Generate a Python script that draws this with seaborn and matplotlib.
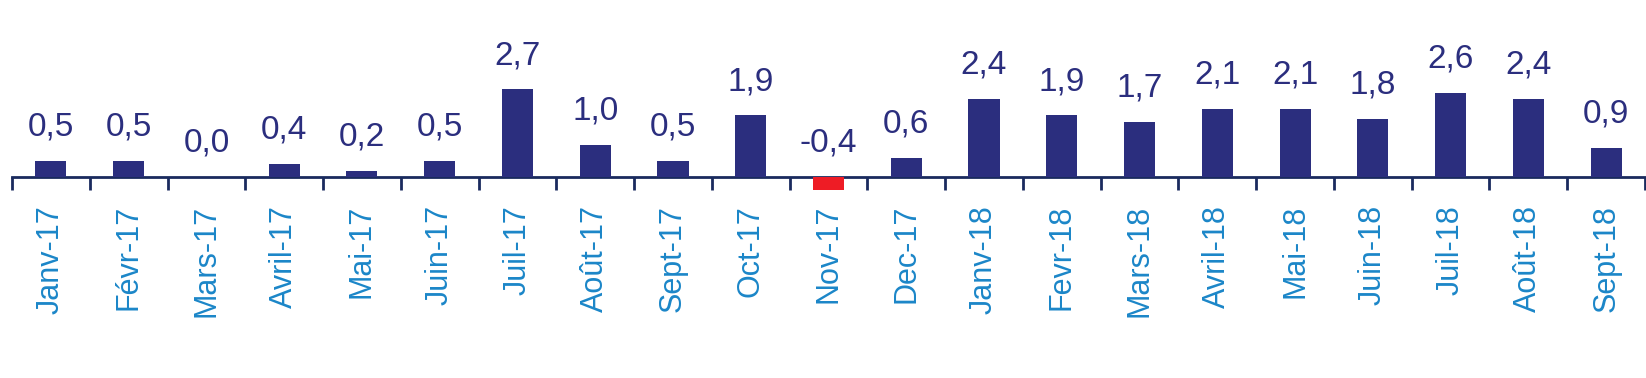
import matplotlib
matplotlib.use('Agg')
import matplotlib.pyplot as plt
import numpy as np
import seaborn as sns

months = ['Janv-17', 'Févr-17', 'Mars-17', 'Avril-17', 'Mai-17', 'Juin-17', 'Juil-17',
          'Août-17', 'Sept-17', 'Oct-17', 'Nov-17', 'Dec-17', 'Janv-18', 'Fevr-18',
          'Mars-18', 'Avril-18', 'Mai-18', 'Juin-18', 'Juil-18', 'Août-18', 'Sept-18']
values = [0.5, 0.5, 0.0, 0.4, 0.2, 0.5, 2.7, 1.0, 0.5, 1.9, -0.4, 0.6,
          2.4, 1.9, 1.7, 2.1, 2.1, 1.8, 2.6, 2.4, 0.9]

navy = '#2B2E7E'
red = '#EE1C25'
label_blue = '#1B86C8'
axis_col = '#1A2A5E'

sns.set_style('white')
plt.rcParams['font.family'] = ['Liberation Sans', 'DejaVu Sans']

fig = plt.figure(figsize=(16.46, 3.78), dpi=100)
ax = fig.add_axes([12 / 1646, 0, 1633 / 1646, 1])

colors = [red if v < 0 else navy for v in values]
sns.barplot(x=months, y=values, hue=months, palette=colors, legend=False,
            width=0.4, saturation=1, linewidth=0, ax=ax)

ax.set_xlim(-0.5, len(months) - 0.5)
ax.set_ylim(-201 / 32.5, 177 / 32.5)

# value labels sit above the bar (or above the axis for negatives)
for i, v in enumerate(values):
    ax.annotate(f'{v:.1f}'.replace('.', ','), (i, max(v, 0)), xytext=(0, 13),
                textcoords='offset points', ha='center', va='bottom',
                fontsize=24, color=navy)

for s in ['top', 'left', 'right']:
    ax.spines[s].set_visible(False)
ax.spines['bottom'].set_position(('data', 0))
ax.spines['bottom'].set_color(axis_col)
ax.spines['bottom'].set_linewidth(2)
ax.spines['bottom'].set_zorder(0.5)

ax.set_yticks([])
ax.set_xticks(range(len(months)))
ax.set_xticklabels(months, rotation=90, fontsize=22, color=label_blue)
ax.tick_params(axis='x', which='major', bottom=True, length=0, pad=20)
ax.set_xticks(np.arange(-0.5, len(months)), minor=True)
ax.tick_params(axis='x', which='minor', bottom=True, length=9, width=2,
               color=axis_col, direction='out')
ax.set_xlabel('')
ax.set_ylabel('')

fig.savefig('out.png', dpi=100)
